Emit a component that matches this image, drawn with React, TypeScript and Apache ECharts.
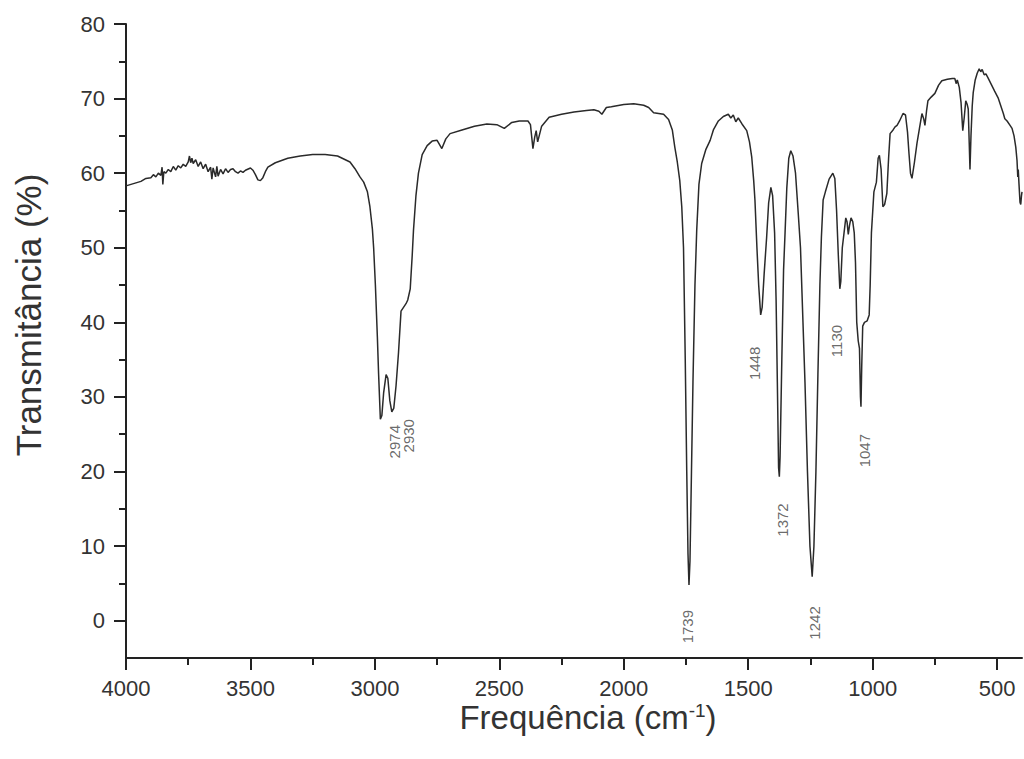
import React, { useEffect, useRef } from "react";
import * as echarts from "echarts";

const spectrum: [number, number][] = [
  [4000, 58.3], [3980, 58.5], [3960, 58.7], [3940, 58.9], [3920, 59.3], [3900, 59.4], [3890, 59.8], [3880, 59.5],
  [3870, 60.0], [3860, 59.7], [3855, 60.8], [3852, 58.5], [3848, 60.2], [3840, 60.0], [3830, 60.5], [3820, 60.2],
  [3810, 60.9], [3800, 60.4], [3790, 61.0], [3780, 60.7], [3770, 61.2], [3760, 60.9], [3750, 61.5], [3745, 62.3],
  [3740, 61.4], [3735, 62.0], [3730, 61.3], [3720, 61.8], [3710, 60.9], [3700, 61.5], [3690, 60.6], [3680, 61.2],
  [3670, 60.2], [3660, 60.8], [3655, 59.2], [3650, 60.7], [3640, 59.5], [3635, 60.9], [3630, 59.6], [3620, 60.5],
  [3610, 59.9], [3600, 60.6], [3590, 60.1], [3580, 60.5], [3570, 60.6], [3560, 60.2], [3550, 60.0], [3540, 60.3],
  [3530, 60.1], [3520, 60.4], [3500, 60.7], [3490, 60.4], [3480, 59.8], [3470, 59.1], [3460, 59.0], [3450, 59.4],
  [3440, 60.2], [3430, 60.8], [3400, 61.4], [3350, 62.0], [3300, 62.3], [3250, 62.5], [3200, 62.5], [3150, 62.3],
  [3100, 61.5], [3080, 60.6], [3060, 59.5], [3045, 58.8], [3030, 57.5], [3020, 55.5], [3010, 52.5], [3005, 50.0],
  [2998, 45.0], [2990, 38.0], [2985, 33.0], [2978, 27.0], [2972, 27.5], [2965, 30.5], [2955, 33.0], [2948, 32.5],
  [2940, 29.5], [2932, 28.0], [2924, 28.5], [2915, 31.5], [2905, 36.0], [2895, 41.5], [2885, 42.0], [2875, 42.5],
  [2868, 43.0], [2858, 44.5], [2850, 49.0], [2845, 52.3], [2835, 57.0], [2825, 60.0], [2810, 62.5], [2790, 63.7],
  [2770, 64.3], [2750, 64.4], [2731, 63.3], [2715, 64.6], [2698, 65.3], [2650, 65.8], [2600, 66.3], [2550, 66.6],
  [2510, 66.5], [2480, 66.0], [2450, 66.8], [2420, 67.0], [2385, 67.0], [2375, 66.5], [2365, 63.3], [2358, 64.8],
  [2352, 65.7], [2346, 64.2], [2330, 66.3], [2300, 67.5], [2250, 67.9], [2200, 68.2], [2150, 68.4], [2120, 68.5],
  [2100, 68.3], [2088, 67.9], [2070, 68.8], [2050, 68.9], [2000, 69.2], [1960, 69.3], [1920, 69.1], [1900, 68.8],
  [1880, 68.1], [1860, 68.0], [1840, 67.9], [1820, 67.2], [1805, 65.8], [1795, 63.5], [1785, 61.5], [1775, 59.0],
  [1767, 55.5], [1760, 50.0], [1753, 35.0], [1747, 20.0], [1742, 9.0], [1738, 4.8], [1734, 8.0], [1728, 20.0],
  [1722, 32.0], [1714, 45.0], [1707, 52.3], [1698, 58.5], [1687, 61.3], [1670, 63.2], [1653, 64.4], [1640, 65.8],
  [1620, 67.0], [1600, 67.6], [1580, 67.9], [1570, 67.4], [1560, 67.8], [1550, 66.9], [1540, 67.4], [1525, 66.6],
  [1506, 65.7], [1495, 64.2], [1486, 62.2], [1478, 59.0], [1473, 56.4], [1465, 50.0], [1458, 45.0], [1450, 41.0],
  [1444, 42.0], [1436, 46.5], [1426, 51.4], [1418, 56.0], [1409, 58.1], [1402, 57.0], [1394, 52.0], [1388, 43.0],
  [1383, 32.0], [1378, 20.5], [1375, 19.3], [1372, 22.0], [1365, 35.0], [1358, 47.0], [1352, 52.0], [1345, 58.0],
  [1337, 62.0], [1329, 63.0], [1320, 62.3], [1310, 60.0], [1299, 54.6], [1290, 50.0], [1282, 42.0], [1272, 32.0],
  [1262, 20.0], [1252, 10.0], [1243, 5.9], [1236, 10.0], [1228, 20.0], [1220, 33.0], [1212, 45.0], [1206, 51.4],
  [1199, 56.4], [1190, 57.5], [1175, 59.2], [1160, 60.0], [1152, 59.3], [1145, 55.0], [1138, 49.0], [1132, 44.5],
  [1128, 45.5], [1122, 50.0], [1115, 52.0], [1108, 54.0], [1103, 53.5], [1098, 51.8], [1093, 53.0], [1087, 54.0],
  [1080, 53.5], [1074, 52.0], [1069, 48.0], [1064, 40.0], [1058, 37.5], [1053, 36.5], [1049, 30.0], [1047, 28.7],
  [1044, 34.0], [1040, 39.5], [1033, 40.0], [1022, 40.2], [1014, 41.0], [1010, 45.0], [1005, 52.0], [995, 57.5],
  [985, 58.8], [978, 62.0], [973, 62.4], [966, 60.5], [959, 55.5], [952, 55.8], [943, 57.3], [936, 62.0],
  [930, 65.3], [918, 65.8], [910, 66.2], [902, 66.4], [892, 67.0], [878, 68.0], [868, 67.8], [860, 65.5],
  [854, 62.6], [848, 60.0], [842, 59.3], [832, 61.5], [822, 64.0], [812, 66.0], [802, 68.0], [795, 67.3],
  [790, 66.4], [783, 68.5], [778, 69.7], [765, 70.2], [750, 70.7], [735, 71.8], [722, 72.4], [700, 72.6],
  [680, 72.7], [670, 72.7], [664, 72.0], [660, 72.5], [652, 71.5], [645, 69.5], [638, 65.7], [632, 67.5],
  [626, 69.7], [620, 69.2], [616, 68.6], [612, 64.0], [609, 60.5], [605, 65.0], [600, 69.0], [596, 70.8],
  [588, 72.5], [580, 73.4], [572, 74.0], [566, 73.6], [560, 73.9], [552, 73.2], [545, 73.3], [537, 72.8],
  [525, 72.0], [510, 71.0], [496, 70.1], [485, 69.0], [475, 68.0], [469, 67.3], [460, 67.0], [450, 66.5],
  [440, 66.0], [432, 65.0], [425, 63.5], [420, 61.7], [417, 59.5], [415, 60.5], [412, 58.5], [408, 56.1],
  [405, 55.8], [402, 57.0], [400, 57.5],
];

// peak annotation labels: [wavenumber position, transmittance position, text]
const peakLabels: [number, number, string][] = [
  [2922, 24.0, "2974"],
  [2866, 24.8, "2930"],
  [1742, -0.8, "1739"],
  [1473, 34.5, "1448"],
  [1364, 13.5, "1372"],
  [1232, -0.3, "1242"],
  [1144, 37.5, "1130"],
  [1031, 22.8, "1047"],
];

const xMajorTicks = [500, 1000, 1500, 2000, 2500, 3000, 3500, 4000];
const xMinorTicks = [750, 1250, 1750, 2250, 2750, 3250, 3750];
const yMajorTicks = [0, 10, 20, 30, 40, 50, 60, 70, 80];
const yMinorTicks = [5, 15, 25, 35, 45, 55, 65, 75];

const FONT = "'Liberation Sans', Arial, Helvetica, sans-serif";
const AXIS_COLOR = "#222";
const TEXT_COLOR = "#333";

export default function App() {
  const ref = useRef<HTMLDivElement>(null);

  useEffect(() => {
    document.body.style.margin = "0";
    if (!ref.current) return;
    const chart = echarts.init(ref.current, undefined, { renderer: "svg" });

    const xBase = {
      type: "value" as const,
      min: 400,
      max: 4000,
      inverse: true,
      splitNumber: 7,
      position: "bottom" as const,
      offset: 0,
      splitLine: { show: false },
    };
    const yBase = {
      type: "value" as const,
      min: -5,
      max: 80,
      splitNumber: 9,
      position: "left" as const,
      offset: 0,
      splitLine: { show: false },
    };

    chart.setOption({
      animation: false,
      backgroundColor: "#fff",
      grid: { left: 126, right: 2, top: 24, bottom: 101, containLabel: false },
      xAxis: [
        {
          ...xBase,
          axisLine: { show: true, onZero: false, lineStyle: { color: AXIS_COLOR, width: 2 } },
          axisTick: { show: true, length: 12, customValues: xMajorTicks, lineStyle: { color: AXIS_COLOR, width: 2 } },
          axisLabel: {
            show: true,
            customValues: xMajorTicks,
            margin: 19,
            fontSize: 22,
            fontFamily: FONT,
            color: TEXT_COLOR,
            formatter: (v: number) => (v % 500 === 0 ? String(v) : ""),
          },
        },
        {
          ...xBase,
          axisLine: { show: false, onZero: false },
          axisTick: { show: true, length: 7, customValues: xMinorTicks, lineStyle: { color: AXIS_COLOR, width: 2 } },
          axisLabel: { show: false },
        },
      ],
      yAxis: [
        {
          ...yBase,
          axisLine: { show: true, onZero: false, lineStyle: { color: AXIS_COLOR, width: 2 } },
          axisTick: { show: true, length: 12, customValues: yMajorTicks, lineStyle: { color: AXIS_COLOR, width: 2 } },
          axisLabel: {
            show: true,
            customValues: yMajorTicks,
            margin: 21,
            fontSize: 22,
            fontFamily: FONT,
            color: TEXT_COLOR,
            formatter: (v: number) => (v % 10 === 0 ? String(v) : ""),
          },
        },
        {
          ...yBase,
          axisLine: { show: false, onZero: false },
          axisTick: { show: true, length: 7, customValues: yMinorTicks, lineStyle: { color: AXIS_COLOR, width: 2 } },
          axisLabel: { show: false },
        },
      ],
      series: [
        {
          type: "line",
          xAxisIndex: 0,
          yAxisIndex: 0,
          data: spectrum,
          showSymbol: false,
          symbol: "none",
          smooth: false,
          lineStyle: { color: "#2a2a2a", width: 1.5 },
          silent: true,
        },
        {
          type: "scatter",
          xAxisIndex: 0,
          yAxisIndex: 0,
          symbolSize: 1,
          itemStyle: { color: "rgba(0,0,0,0)" },
          silent: true,
          data: peakLabels.map(([x, y, t]) => ({ value: [x, y], name: t })),
          label: {
            show: true,
            position: "inside",
            rotate: 90,
            formatter: "{b}",
            fontSize: 15,
            fontFamily: FONT,
            color: "#444",
          },
        },
      ],
      graphic: [
        {
          type: "text",
          x: 28,
          y: 315,
          rotation: Math.PI / 2,
          style: {
            text: "Transmitância (%)",
            fontSize: 35,
            fontFamily: FONT,
            fill: TEXT_COLOR,
            align: "center",
            verticalAlign: "middle",
          },
        },
        {
          type: "text",
          x: 588,
          y: 717,
          style: {
            text: "{a|Frequência (cm}{b|-1}{a|)}",
            align: "center",
            verticalAlign: "middle",
            fill: TEXT_COLOR,
            rich: {
              a: { fontSize: 33, fontFamily: FONT, fill: TEXT_COLOR, lineHeight: 33 },
              b: { fontSize: 19, fontFamily: FONT, fill: TEXT_COLOR, lineHeight: 19, verticalAlign: "top" },
            },
          },
        },
      ],
    });

    return () => chart.dispose();
  }, []);

  return <div ref={ref} style={{ width: 1024, height: 759 }} />;
}
